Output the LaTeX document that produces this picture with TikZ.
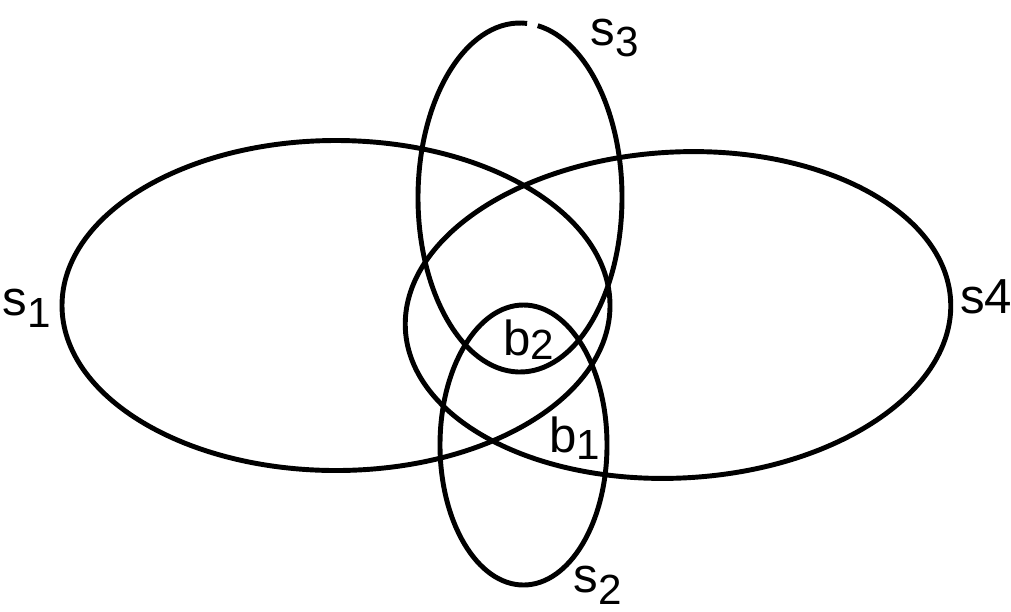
\documentclass[tikz,border=0pt]{standalone}
\usepackage{fontspec}
\setmainfont{Liberation Sans}
\newcommand{\chiso}[2][0.45ex]{\raisebox{-#1}{\fontsize{12}{14}\selectfont #2}}
\begin{document}
\begin{tikzpicture}[
    vong/.style={line width=1.4pt},
    nhan/.style={font=\fontsize{14}{16}\selectfont, inner sep=0pt}
  ]
    % Khung
    \useasboundingbox (0,0) rectangle (10.11,6.11);

    % Vẽ các tập s1, s4 (nằm ngang)
    \draw[vong] (3.36,3.055) ellipse [x radius=2.74, y radius=1.65];
    \draw[vong, rotate around={3:(6.78,2.96)}] (6.78,2.96) ellipse [x radius=2.73, y radius=1.63];

    % Vẽ các tập s3, s2 (đứng)
    \draw[vong] (5.20,4.135) ++(86:1.02 and 1.745)
        arc [start angle=86, end angle=440, x radius=1.02, y radius=1.745];
    \draw[vong] (5.235,1.66) ellipse [x radius=0.835, y radius=1.40];

    % Đặt tên các tập
    \node[nhan] (s1) at (0.27,3.03) {s\chiso{1}};
    \node[nhan] (s3) at (6.15,5.73) {s\chiso{3}};
    \node[nhan] (s4) at (9.86,3.14) {s4};
    \node[nhan] (s2) at (5.98,0.26) {s\chiso{2}};

    % Các miền b1, b2
    \node[nhan] (b2) at (5.29,2.71) {b\chiso[0.15ex]{2}};
    \node[nhan] (b1) at (5.75,1.73) {b\chiso[0.25ex]{1}};
\end{tikzpicture}
\end{document}
